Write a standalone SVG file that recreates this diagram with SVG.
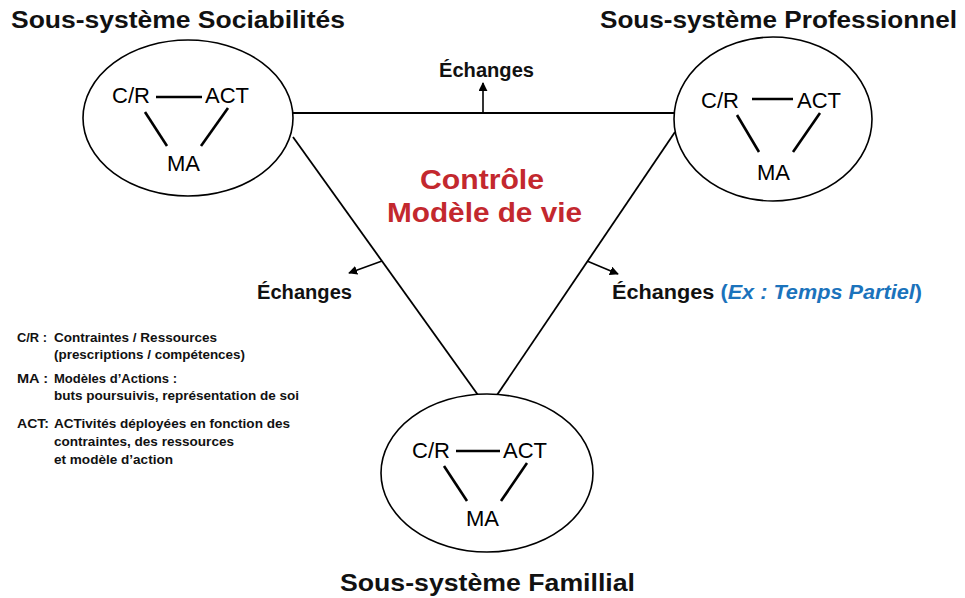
<svg xmlns="http://www.w3.org/2000/svg" width="965" height="598" viewBox="0 0 965 598">
<defs>
<style>
.title{font-family:"Liberation Sans",Arial,sans-serif;font-weight:bold;font-size:23px;fill:#111}
.node{fill:#fff;stroke:#000;stroke-width:1.6}
.in{font-family:"Liberation Sans",Arial,sans-serif;font-size:22px;fill:#000}
.il{stroke:#000;stroke-width:2.6;fill:none}
.edge{stroke:#000;stroke-width:1.8;fill:none}
.arr{stroke:#000;stroke-width:1.6;fill:none}
.lbl{font-family:"Liberation Sans",Arial,sans-serif;font-weight:bold;font-size:19.5px;fill:#111}
.blue{fill:#1b73bc}
.ctrl{font-family:"Liberation Sans",Arial,sans-serif;font-weight:bold;font-size:27px;fill:#c3282e}
.leg{font-family:"Liberation Sans",Arial,sans-serif;font-weight:bold;font-size:13px;fill:#111}
</style>
<marker id="ah" viewBox="0 0 10 10" refX="9" refY="5" markerWidth="9" markerHeight="9" markerUnits="userSpaceOnUse" orient="auto">
<path d="M0,0 L10,5 L0,10 z" fill="#000"/>
</marker>
</defs>
<rect width="965" height="598" fill="#fff"/>
<g id="connectors">
<line class="edge" x1="293" y1="113" x2="675" y2="113"/>
<line class="edge" x1="293" y1="137" x2="478" y2="395"/>
<line class="edge" x1="675" y1="132" x2="497" y2="395"/>
<line class="arr" x1="483" y1="113" x2="483" y2="83" marker-end="url(#ah)"/>
<line class="arr" x1="382" y1="261" x2="349" y2="273" marker-end="url(#ah)"/>
<line class="arr" x1="587" y1="261" x2="618" y2="274" marker-end="url(#ah)"/>
</g>
<g id="sociabilites">
<ellipse class="node" cx="188" cy="118" rx="105" ry="78"/>
<text class="in" x="112" y="103">C/R</text>
<line class="il" x1="156" y1="97" x2="202" y2="97"/>
<text class="in" x="205" y="103">ACT</text>
<line class="il" x1="145" y1="112" x2="167" y2="146"/>
<line class="il" x1="228" y1="108" x2="201" y2="146"/>
<text class="in" x="167" y="171">MA</text>
<text class="title" x="11" y="28" textLength="334" lengthAdjust="spacingAndGlyphs">Sous-système Sociabilités</text>
</g>
<g id="professionnel">
<ellipse class="node" cx="773" cy="119" rx="99" ry="82"/>
<text class="in" x="701" y="108">C/R</text>
<line class="il" x1="752" y1="99" x2="793" y2="99"/>
<text class="in" x="797" y="108">ACT</text>
<line class="il" x1="737" y1="115" x2="759" y2="152"/>
<line class="il" x1="820" y1="113" x2="793" y2="152"/>
<text class="in" x="757" y="180">MA</text>
<text class="title" x="600" y="28" textLength="357" lengthAdjust="spacingAndGlyphs">Sous-système Professionnel</text>
</g>
<g id="familial">
<ellipse class="node" cx="487" cy="473" rx="106" ry="79"/>
<text class="in" x="412" y="458">C/R</text>
<line class="il" x1="456" y1="451" x2="500" y2="451"/>
<text class="in" x="503" y="458">ACT</text>
<line class="il" x1="444" y1="466" x2="467" y2="501"/>
<line class="il" x1="527" y1="463" x2="501" y2="501"/>
<text class="in" x="466" y="526">MA</text>
<text class="title" x="340" y="591" textLength="295" lengthAdjust="spacingAndGlyphs">Sous-système Famillial</text>
</g>
<g id="controle">
<text class="ctrl" x="420" y="189" textLength="124" lengthAdjust="spacingAndGlyphs">Contrôle</text>
<text class="ctrl" x="387" y="222" textLength="195" lengthAdjust="spacingAndGlyphs">Modèle de vie</text>
</g>
<g id="labels">
<text class="lbl" x="439" y="77" textLength="95" lengthAdjust="spacingAndGlyphs">Échanges</text>
<text class="lbl" x="257" y="299" textLength="95" lengthAdjust="spacingAndGlyphs">Échanges</text>
<text class="lbl" x="612" y="299" textLength="310" lengthAdjust="spacingAndGlyphs">Échanges <tspan class="blue">(</tspan><tspan class="blue" font-style="italic">Ex : Temps Partiel</tspan><tspan class="blue">)</tspan></text>
</g>
<g id="legend">
<text class="leg" x="17" y="342" textLength="30" lengthAdjust="spacingAndGlyphs">C/R :</text>
<text class="leg" x="54" y="342" textLength="163" lengthAdjust="spacingAndGlyphs">Contraintes / Ressources</text>
<text class="leg" x="54" y="359" textLength="191" lengthAdjust="spacingAndGlyphs">(prescriptions / compétences)</text>
<text class="leg" x="17" y="383" textLength="31" lengthAdjust="spacingAndGlyphs">MA :</text>
<text class="leg" x="54" y="383" textLength="123" lengthAdjust="spacingAndGlyphs">Modèles d’Actions :</text>
<text class="leg" x="54" y="400" textLength="245" lengthAdjust="spacingAndGlyphs">buts poursuivis, représentation de soi</text>
<text class="leg" x="17" y="428" textLength="32" lengthAdjust="spacingAndGlyphs">ACT:</text>
<text class="leg" x="54" y="428" textLength="236" lengthAdjust="spacingAndGlyphs">ACTivités déployées en fonction des</text>
<text class="leg" x="54" y="446" textLength="180" lengthAdjust="spacingAndGlyphs">contraintes, des ressources</text>
<text class="leg" x="54" y="464" textLength="119" lengthAdjust="spacingAndGlyphs">et modèle d’action</text>
</g>
</svg>
